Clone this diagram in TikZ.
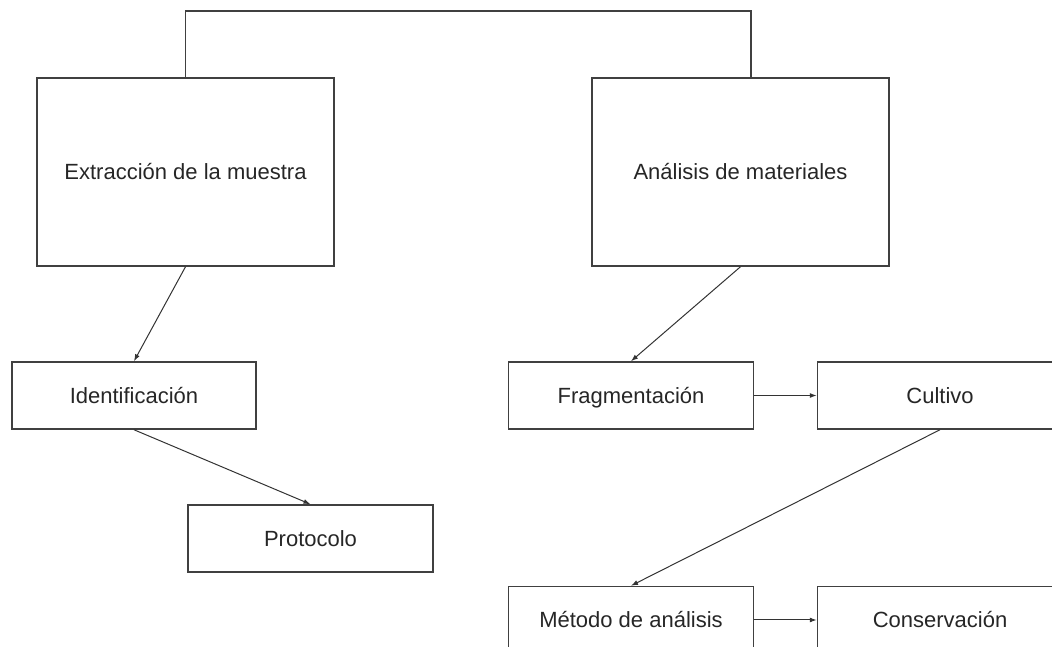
\documentclass[tikz,border=0pt]{standalone}
\usepackage{fontspec}
\setmainfont{Liberation Sans}
\usetikzlibrary{arrows.meta}
\begin{document}
\begin{tikzpicture}[x=1pt, y=1pt, >={Latex[length=7pt,width=5pt]},
  kasten/.style={draw=black!75, line width=1.5pt, inner sep=0pt, text=black!85, text height=16pt, text depth=0pt, font=\fontsize{22pt}{26pt}\selectfont},
  pfeil/.style={->, draw=black!80, line width=1pt}]
\useasboundingbox (0,0) rectangle (1052,647);
\clip (0,0) rectangle (1052,647);
\node (1) at (185.5,475) [kasten, minimum width=297pt, minimum height=188pt] {Extracción de la muestra};
\node (2) at (740.5,475) [kasten, minimum width=297pt, minimum height=188pt] {Análisis de materiales};
\node (3) at (134,251.5) [kasten, minimum width=244pt, minimum height=67pt] {Identificación};
\node (4) at (310.5,108.5) [kasten, minimum width=245pt, minimum height=67pt] {Protocolo};
\node (5) at (631,251.5) [kasten, minimum width=245pt, minimum height=67pt] {Fragmentación};
\node (6) at (940,251.5) [kasten, minimum width=245pt, minimum height=67pt] {Cultivo};
\node (7) at (631,27) [kasten, minimum width=245pt, minimum height=67pt] {Método de análisis};
\node (8) at (940,27) [kasten, minimum width=245pt, minimum height=67pt] {Conservación};
\draw[draw=black!75, line width=1.5pt] (1.north) -- ++(0,66) -| ([xshift=10.5pt]2.north);
\draw[pfeil] (1.south) -- (3.north);
\draw[pfeil] (3.south) -- (4.north);
\draw[pfeil] (2.south) -- (5.north);
\draw[pfeil] (5) -- (6);
\draw[pfeil] (6.south) -- (7.north);
\draw[pfeil] (7) -- (8);
\end{tikzpicture}
\end{document}
